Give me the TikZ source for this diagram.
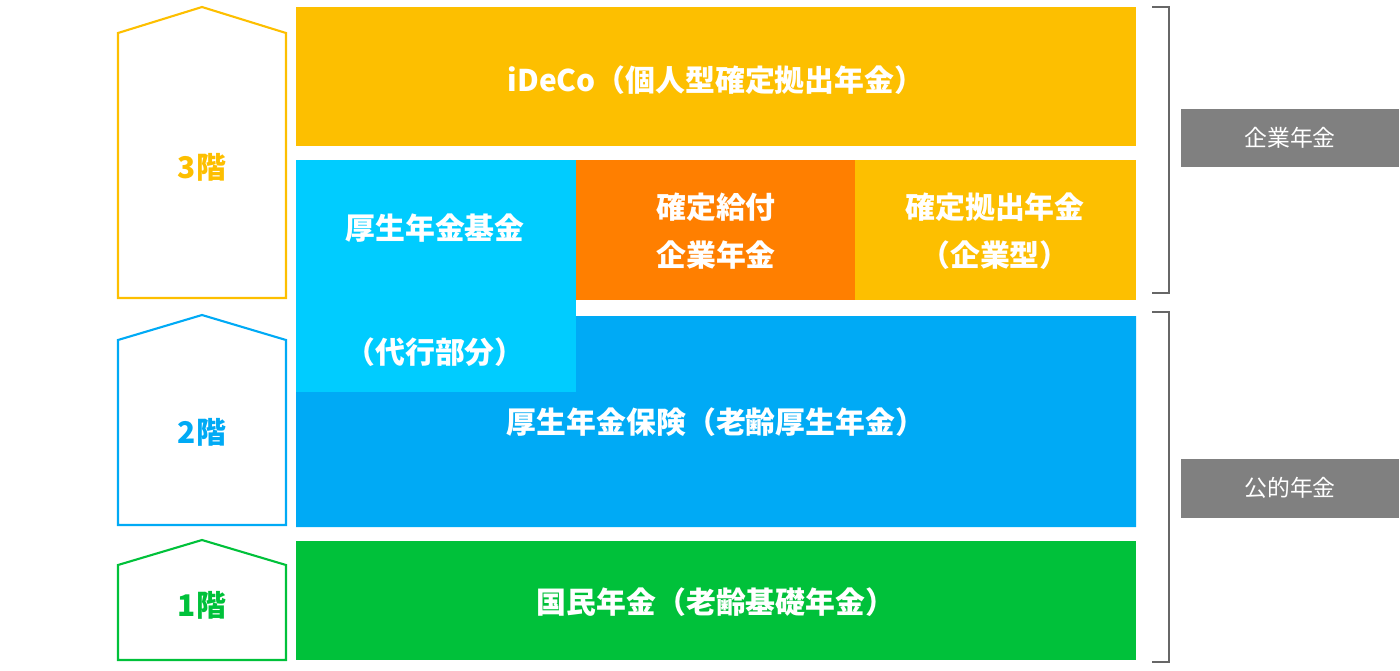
\documentclass[tikz,border=0pt]{standalone}
\usepackage{fontspec}
\setmainfont{Noto Sans CJK JP}
\definecolor{kiiro}{HTML}{FDBF00}
\definecolor{mizu}{HTML}{00CCFF}
\definecolor{ao}{HTML}{00AAF5}
\definecolor{daidai}{HTML}{FF7F00}
\definecolor{midori}{HTML}{00C13A}
\definecolor{hai}{HTML}{808080}
\tikzstyle{blk}=[%
	draw=none, inner sep=0, text=white, font=\fontsize{17}{27}\selectfont\bfseries, align=center
]
\tikzstyle{floor}=[line width=1.2pt]
\tikzstyle{tag}=[fill=hai, text=white, font=\fontsize{13}{16}\selectfont, inner sep=0, minimum width=4.38cm, minimum height=1.18cm]

\begin{document}
\begin{tikzpicture}[x=0.02cm, y=-0.02cm]
	\useasboundingbox (0,0) rectangle (1400,670);

	% floors
	\draw[floor, draw=kiiro] (118,298) -- (118,33) -- (202,7) -- (286,33) -- (286,298) -- cycle;
	\draw[floor, draw=ao] (118,525) -- (118,340) -- (202,315) -- (286,340) -- (286,525) -- cycle;
	\draw[floor, draw=midori] (118,660) -- (118,565) -- (202,540) -- (286,565) -- (286,660) -- cycle;
	\node[blk, text=kiiro] (f3) at (202,167) {3階};
	\node[blk, text=ao] (f2) at (202,432) {2階};
	\node[blk, text=midori] (f1) at (202,605) {1階};

	% blocks
	\fill[kiiro] (296,7) rectangle (1136,146);
	\node[blk] (ideco) at (716,80) {iDeCo（個人型確定拠出年金）};

	\fill[ao] (576,316) rectangle (1136,392) (296,392) rectangle (1136,527);
	\node[blk] (kosei) at (716,422) {厚生年金保険（老齢厚生年金）};

	\fill[mizu] (296,160) rectangle (576,392);
	\node[blk] (kikin) at (435,228) {厚生年金基金};
	\node[blk] (daiko) at (435,352) {（代行部分）};

	\fill[daidai] (576,160) rectangle (855,300);
	\node[blk] (db) at (716,231) {確定給付\\企業年金};

	\fill[kiiro] (855,160) rectangle (1136,300);
	\node[blk] (dc) at (995,231) {確定拠出年金\\（企業型）};

	\fill[midori] (296,541) rectangle (1136,660);
	\node[blk] (kokumin) at (716,602) {国民年金（老齢基礎年金）};

	% brackets
	\draw[hai!80!black, line width=1pt] (1152,7) -- (1169,7) -- (1169,293) -- (1152,293);
	\draw[hai!80!black, line width=1pt] (1152,312) -- (1169,312) -- (1169,662) -- (1152,662);
	\node[tag] (kigyo) at (1290,138) {企業年金};
	\node[tag] (koteki) at (1290,488) {公的年金};
\end{tikzpicture}
\end{document}
